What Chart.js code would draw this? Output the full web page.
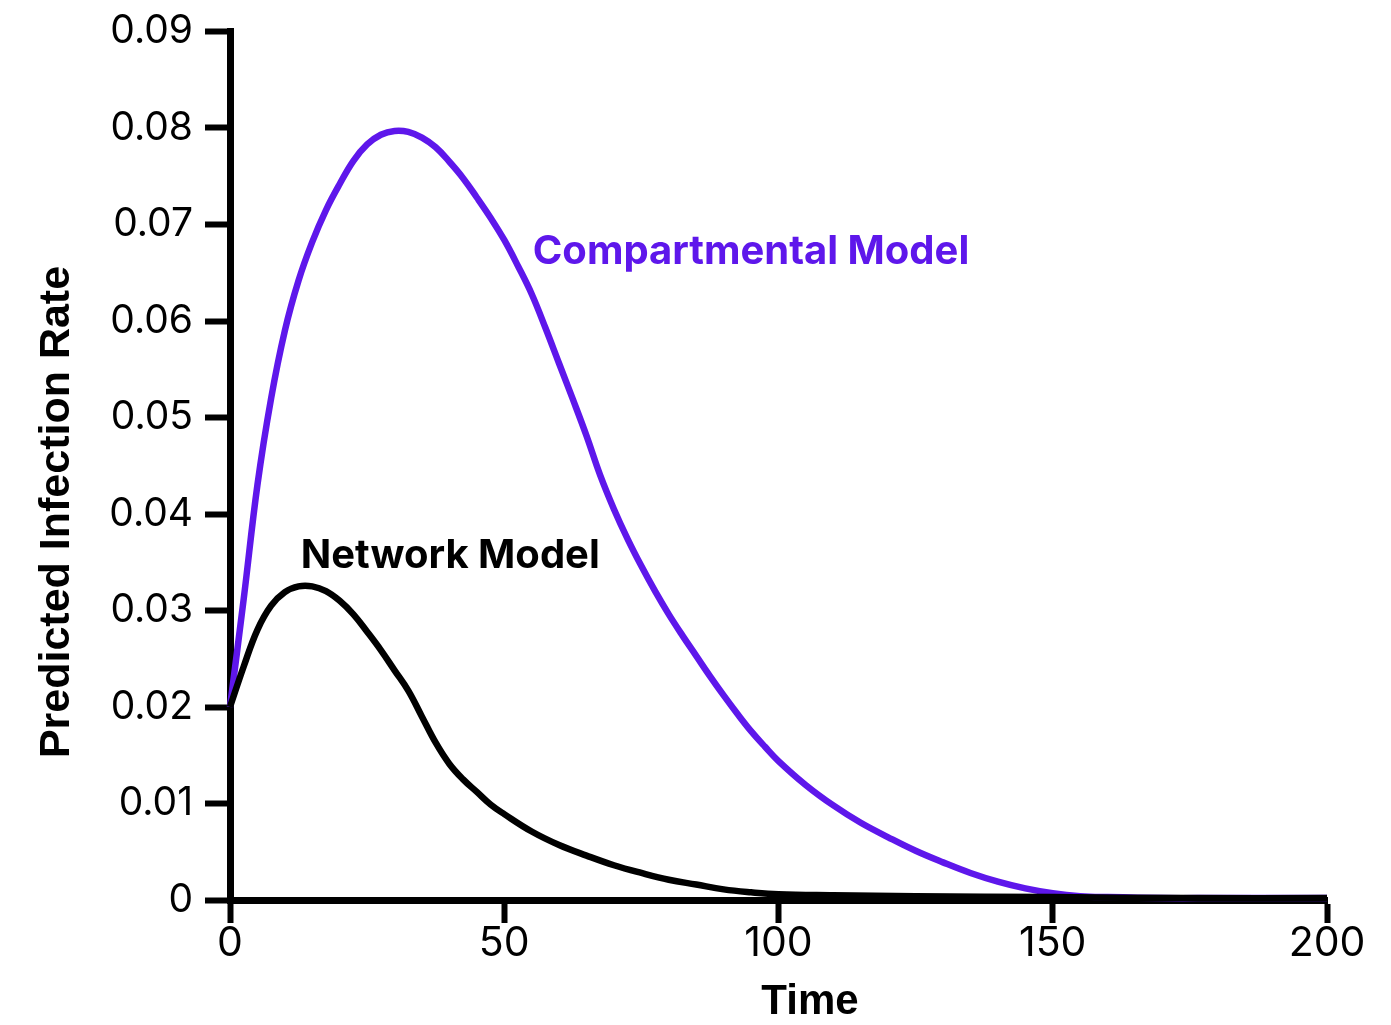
<!DOCTYPE html>
<html>
<head>
<meta charset="utf-8">
<script src="https://cdn.jsdelivr.net/npm/chart.js@4.4.1/dist/chart.umd.min.js"></script>
<style>
  html, body { margin: 0; padding: 0; background: #ffffff; }
  #wrap { width: 1391px; height: 1025px; }
</style>
</head>
<body>
<div id="wrap"><canvas id="c" width="1391" height="1025"></canvas></div>
<script>
// ---- data ----
const compartTime = [0, 2.5, 5, 7.5, 10, 12.5, 15, 17.5, 20, 22.5, 25, 27.5, 30, 32.5, 35, 37.5, 40, 42.5, 45, 47.5, 50, 52.5, 55, 57.5, 60, 62.5, 65, 67.5, 70, 72.5, 75, 77.5, 80, 82.5, 85, 87.5, 90, 92.5, 95, 97.5, 100, 105, 110, 115, 120, 125, 130, 135, 140, 145, 150, 155, 160, 170, 180, 190, 200];
const compartRate = [0.0200, 0.0312, 0.0430, 0.0520, 0.0590, 0.0642, 0.0682, 0.0715, 0.0742, 0.0766, 0.0783, 0.0793, 0.0797, 0.0796, 0.0790, 0.0780, 0.0765, 0.0748, 0.0728, 0.0707, 0.0684, 0.0657, 0.0628, 0.0593, 0.0556, 0.0519, 0.0481, 0.0440, 0.0405, 0.0374, 0.0346, 0.0320, 0.0296, 0.0274, 0.0253, 0.0232, 0.0212, 0.0193, 0.0175, 0.0159, 0.0144, 0.0119, 0.0098, 0.0080, 0.0065, 0.0051, 0.0039, 0.0028, 0.0019, 0.0012, 0.0007, 0.0004, 0.0003, 0.0002, 0.0002, 0.0002, 0.0002];

const networkTime = [0, 2.5, 5, 7.5, 10, 12.5, 15, 17.5, 20, 22.5, 25, 27.5, 30, 32.5, 35, 37.5, 40, 42.5, 45, 47.5, 50, 55, 60, 65, 70, 75, 80, 85, 90, 95, 100, 110, 125, 150, 175, 200];
const networkRate = [0.0200, 0.0242, 0.0280, 0.0305, 0.0319, 0.0325, 0.0325, 0.0320, 0.0310, 0.0296, 0.0278, 0.0259, 0.0238, 0.0217, 0.0190, 0.0163, 0.0141, 0.0125, 0.0112, 0.0099, 0.0089, 0.0071, 0.0057, 0.0046, 0.0036, 0.0028, 0.0021, 0.0016, 0.0011, 0.0008, 0.0006, 0.0005, 0.0004, 0.0003, 0.0002, 0.0002];

const xTickValues = [0, 50, 100, 150, 200];
const xTickLabels = ['0', '50', '100', '150', '200'];
const yTickValues = [0, 0.01, 0.02, 0.03, 0.04, 0.05, 0.06, 0.07, 0.08, 0.09];
const yTickLabels = ['0', '0.01', '0.02', '0.03', '0.04', '0.05', '0.06', '0.07', '0.08', '0.09'];

const seriesNames = ['Network Model', 'Compartmental Model'];
const labelAnchorTime = [12.9, 55.2];     // where each series' text label starts
const labelAnchorRate = [0.0344, 0.0659]; // baseline of each label

const xTitle = 'Time';
const yTitle = 'Predicted Infection Rate';

// ---- styles ----
const PURPLE = '#5E17EB';
const BLACK = '#000000';

function toPoints(xs, ys) { return xs.map((x, i) => ({ x: x, y: ys[i] })); }

const textLayer = {
  id: 'textLayer',
  afterDatasetsDraw(chart) {
    const ctx = chart.ctx;
    const xs = chart.scales.x, ys = chart.scales.y;
    const colors = [BLACK, PURPLE];
    ctx.save();
    // series labels
    ctx.font = 'bold 40px Inter';
    ctx.textAlign = 'left';
    ctx.textBaseline = 'alphabetic';
    seriesNames.forEach((name, i) => {
      ctx.fillStyle = colors[i];
      ctx.fillText(name, xs.getPixelForValue(labelAnchorTime[i]), ys.getPixelForValue(labelAnchorRate[i]));
    });
    // axis titles
    ctx.fillStyle = BLACK;
    ctx.font = 'bold 42px "Liberation Sans"';
    ctx.textAlign = 'center';
    ctx.textBaseline = 'middle';
    ctx.fillText(xTitle, 810, 1002);
    ctx.translate(57, 512);
    ctx.rotate(-Math.PI / 2);
    ctx.font = 'bold 43px "Liberation Sans"';
    ctx.fillText(yTitle, 0, 0);
    ctx.restore();
  }
};

new Chart(document.getElementById('c'), {
  type: 'line',
  data: {
    datasets: [
      {
        label: seriesNames[0],
        data: toPoints(networkTime, networkRate),
        borderColor: BLACK,
        borderWidth: 6.5,
        pointRadius: 0,
        tension: 0.4,
        fill: false,
        clip: false
      },
      {
        label: seriesNames[1],
        data: toPoints(compartTime, compartRate),
        borderColor: PURPLE,
        borderWidth: 6.5,
        pointRadius: 0,
        tension: 0.4,
        fill: false,
        clip: false
      }
    ]
  },
  options: {
    responsive: false,
    animation: false,
    devicePixelRatio: 1,
    layout: { padding: { top: 30, right: 64, left: 0, bottom: 0 } },
    plugins: { legend: { display: false }, tooltip: { enabled: false } },
    scales: {
      x: {
        type: 'linear',
        min: 0, max: 200,
        afterBuildTicks: (s) => { s.ticks = xTickValues.map(v => ({ value: v })); },
        afterFit: (s) => { s.height = 125; },
        border: { display: true, color: BLACK, width: 7 },
        grid: { drawOnChartArea: false, drawTicks: true, tickLength: 23, tickWidth: 6, tickColor: BLACK },
        ticks: {
          color: BLACK,
          font: { family: 'Inter', size: 41, weight: '400', lineHeight: 1 },
          padding: 0,
          maxRotation: 0,
          callback: (v) => { const i = xTickValues.indexOf(v); return i >= 0 ? xTickLabels[i] : ''; }
        },
        title: { display: false }
      },
      y: {
        type: 'linear',
        min: 0, max: 0.09,
        afterBuildTicks: (s) => { s.ticks = yTickValues.map(v => ({ value: v })); },
        afterFit: (s) => { s.width = 230; },
        border: { display: true, color: BLACK, width: 7 },
        grid: { drawOnChartArea: false, drawTicks: true, tickLength: 25, tickWidth: 6, tickColor: BLACK },
        ticks: {
          color: BLACK,
          font: { family: 'Inter', size: 39, weight: '400', lineHeight: 1 },
          padding: 12,
          callback: (v) => { const i = yTickValues.findIndex(t => Math.abs(t - v) < 1e-9); return i >= 0 ? yTickLabels[i] : ''; }
        },
        title: { display: false }
      }
    }
  },
  plugins: [textLayer]
});
</script>
</body>
</html>
